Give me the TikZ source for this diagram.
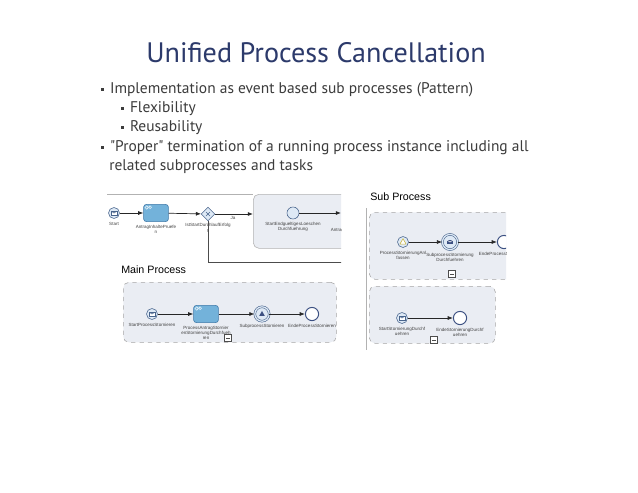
\documentclass[tikz,border=0pt]{standalone}
\usepackage{fontspec}
\setmainfont{PT Sans}[Ligatures=TeXOff]
\newfontfamily\shotfont{Liberation Sans}
\usepackage{tikz}
\usetikzlibrary{shapes.geometric, arrows.meta, positioning}
\definecolor{titleblue}{RGB}{44,58,107}
\definecolor{bodygray}{RGB}{60,60,60}
\definecolor{taskblue}{RGB}{115,178,218}
\definecolor{taskborder}{RGB}{62,120,168}
\definecolor{evfill}{RGB}{222,233,245}
\definecolor{evborder}{RGB}{72,100,140}
\definecolor{endblue}{RGB}{60,80,130}
\definecolor{subfill}{RGB}{234,237,243}
\definecolor{warnyellow}{RGB}{200,180,60}
\newcommand{\bul}{\raisebox{0.3ex}{\rule{2.2pt}{2.2pt}}\hspace{4pt}}

\begin{document}
\begin{tikzpicture}[
    x=0.025cm, y=-0.025cm,
    event/.style={circle, draw=evborder, fill=evfill, inner sep=0pt, minimum size=0.275cm},
    msgevent/.style={event, path picture={
        \draw[evborder, fill=white] ([shift={(-2pt,-1.3pt)}]path picture bounding box.center) rectangle ++(4pt,2.6pt);
        \draw[evborder] ([shift={(-2pt,1.3pt)}]path picture bounding box.center) -- (path picture bounding box.center) -- ([shift={(2pt,1.3pt)}]path picture bounding box.center);}},
    endevent/.style={circle, draw=endblue, fill=white, line width=0.7pt, inner sep=0pt, minimum size=0.33cm},
    dblevent/.style={circle, draw=evborder, fill=evfill, double=evfill, double distance=0.9pt, inner sep=0pt, minimum size=0.36cm},
    task/.style={draw=taskborder, fill=taskblue, rounded corners=2pt, minimum width=0.62cm, minimum height=0.43cm, inner sep=0pt,
        path picture={\draw[white!80!taskblue] ([shift={(2.2pt,-2.2pt)}]path picture bounding box.north west) circle (1.2pt);
        \draw[white!80!taskblue] ([shift={(4.6pt,-2pt)}]path picture bounding box.north west) circle (1pt);}},
    gateway/.style={diamond, draw=evborder, fill=evfill, inner sep=0pt, minimum size=0.34cm,
        path picture={\draw[evborder] ([shift={(-1.4pt,-1.4pt)}]path picture bounding box.center) -- ++(2.8pt,2.8pt)
        ([shift={(-1.4pt,1.4pt)}]path picture bounding box.center) -- ++(2.8pt,-2.8pt);}},
    shotlabel/.style={font=\shotfont\fontsize{3.2}{3.8}\selectfont, align=center, text=black!75, inner sep=0.5pt},
    flow/.style={-{Latex[length=1.3mm,width=1mm]}, black!85, line width=0.5pt},
    subbox/.style={draw=gray!70, dashed, fill=subfill, rounded corners=4pt, anchor=north west, inner sep=0pt},
    marker/.style={draw=black!70, fill=white, minimum size=0.17cm, inner sep=0pt,
        path picture={\draw[black!70] ([xshift=1pt]path picture bounding box.west) -- ([xshift=-1pt]path picture bounding box.east);}},
    bullet/.style={anchor=base west, font=\fontsize{11}{13}\selectfont, text=bodygray, inner sep=0pt}
]
    \fill[white] (0,0) rectangle (638,493);
    \useasboundingbox (0,0) rectangle (638,493);

    % Title and bullets
    \node[font=\fontsize{20}{24}\selectfont, text=titleblue, anchor=base] (title) at (316,62) {Unified Process Cancellation};
    \node[bullet] (b1) at (101,93) {\bul Implementation as event based sub processes (Pattern)};
    \node[bullet] (b1a) at (121,112) {\bul Flexibility};
    \node[bullet] (b1b) at (121,131) {\bul Reusability};
    \node[bullet] (b2) at (101,151) {\bul "Proper" termination of a running process instance including all};
    \node[bullet] (b2c) at (109,170) {related subprocesses and tasks};

    % Left screenshot, top process
    \begin{scope}
    \clip (100,185) rectangle (341,350);
    \node[subbox, solid, draw=gray!60, minimum width=2.5cm, minimum height=1.35cm] (endsub) at (253,194) {};
    \draw[gray!60] (107,194) -- (endsub.north west);
    \node[msgevent] (start) at (114,213) {};
    \node[task] (pruefen) at (156,213) {};
    \node[gateway] (gw) at (208,214) {};
    \node[event, minimum size=0.3cm] (stend) at (293,213) {};
    \coordinate (antr) at (341,213);
    \coordinate (loopend) at (345,262);
    \node[shotlabel, below=1.5pt of start] {Start};
    \node[shotlabel, below=1.5pt of pruefen] {AntragInhaltePruefe\\n};
    \node[shotlabel, below=1pt of gw] {IstStartDurchlaufErfolg\\t};
    \node[shotlabel, below=1.5pt of stend] {StartEndgueltigesLoeschen\\Durchfuehrung};
    \node[shotlabel, anchor=west] at (330,230) {Antrag};
    \node[shotlabel] at (233,218) {Ja};
    \draw[flow] (start) -- (pruefen);
    \draw[flow] (pruefen) -- (gw);
    \draw[flow] (gw) -- (gw -| endsub.west);
    \draw[flow] (stend) -- (antr);
    \draw[black!70, line width=0.4pt] (gw.south) |- (loopend);
    \end{scope}

    % Main process
    \node[font=\shotfont\fontsize{7.6}{9}\selectfont, anchor=west, inner sep=0pt] (maintitle) at (121,270) {Main Process};
    \node[subbox, minimum width=5.325cm, minimum height=1.5cm] (mainbox) at (123,282) {};
    \node[msgevent] (mstart) at (152,314) {};
    \node[task] (mtask) at (206,314) {};
    \node[dblevent, path picture={\fill[endblue] ([shift={(0,2.2pt)}]path picture bounding box.center) -- ++(-2pt,-3.6pt) -- ++(4pt,0) -- cycle;}] (msignal) at (262,314) {};
    \node[endevent] (mend) at (312,314) {};
    \node[shotlabel, below=1.5pt of mstart] {StartProcessStornieren};
    \node[shotlabel, below=1.5pt of mtask] {ProcessAntragStornier\\enStornierungDurchfueh\\ren};
    \node[shotlabel, below=1.5pt of msignal] {SubprocessStornieren};
    \node[shotlabel, below=1.5pt of mend] {EndeProcessStornieren};
    \node[marker] (mmark) at (228,338) {};
    \draw[flow] (mstart) -- (mtask);
    \draw[flow] (mtask) -- (msignal);
    \draw[flow] (msignal) -- (mend);

    % Right screenshot, sub processes
    \begin{scope}
    \clip (360,185) rectangle (506,350);
    \node[font=\shotfont\fontsize{7.6}{9}\selectfont, anchor=west, inner sep=0pt] (subtitle) at (370,197) {Sub Process};
    \draw[gray!60] (366,208) -- (366,350);
    \node[subbox, minimum width=3.75cm, minimum height=1.675cm] (upbox) at (369,212) {};
    \node[event, path picture={\draw[warnyellow, fill=white, line join=round] ([shift={(0,2.4pt)}]path picture bounding box.center) -- ++(-2.2pt,-3.9pt) -- ++(4.4pt,0) -- cycle;}] (wstart) at (403,242) {};
    \node[dblevent, minimum size=0.38cm, path picture={\fill[endblue] ([shift={(-2.3pt,-1.5pt)}]path picture bounding box.center) rectangle ++(4.6pt,3pt);
        \draw[white] ([shift={(-2.3pt,1.5pt)}]path picture bounding box.center) -- (path picture bounding box.center) -- ([shift={(2.3pt,1.5pt)}]path picture bounding box.center);}] (smsg) at (450,242) {};
    \node[endevent] (send) at (504,242) {};
    \node[shotlabel, below=1.5pt of wstart] {ProcessStornierungAnl\\fassen};
    \node[shotlabel, below=1.5pt of smsg] {SubprocessStornierung\\Durchfuehren};
    \node[shotlabel, below=1.5pt of send] {EndeProcessStornierung};
    \node[marker] (umark) at (452,274) {};
    \draw[flow] (wstart) -- (smsg);
    \draw[flow] (smsg) -- (send);

    \node[subbox, minimum width=3.15cm, minimum height=1.425cm] (lowbox) at (369,286) {};
    \node[msgevent] (lstart) at (402,318) {};
    \node[endevent] (lend) at (460,318) {};
    \node[shotlabel, below=1.5pt of lstart] {StartStornierungDurchf\\uehren};
    \node[shotlabel, below=1.5pt of lend] {EndeStornierungDurchf\\uehren};
    \node[marker] (lmark) at (434,340) {};
    \draw[flow] (lstart) -- (lend);
    \end{scope}
\end{tikzpicture}
\end{document}
